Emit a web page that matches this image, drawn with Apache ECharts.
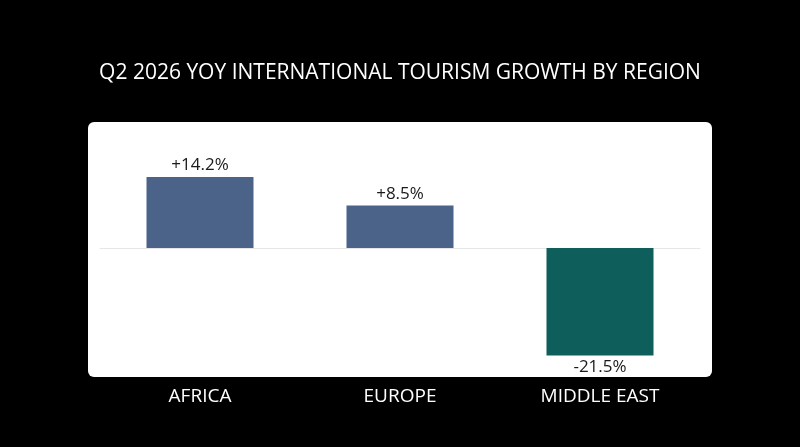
<!DOCTYPE html>
<html>
<head>
<meta charset="utf-8">
<script src="https://cdn.jsdelivr.net/npm/echarts@6/dist/echarts.min.js"></script>
<style>
  html, body { margin: 0; padding: 0; background: #000; }
  #chart { width: 800px; height: 447px; }
</style>
</head>
<body>
<div id="chart"></div>
<script>
// data
const regions = ['AFRICA', 'EUROPE', 'MIDDLE EAST']
const growth = [14.2, 8.5, -21.5]
const barColors = ['#4b6388', '#4b6388', '#0e5f5c']

const chart = echarts.init(document.getElementById('chart'))

const fmt = v => (v > 0 ? '+' : '') + v.toFixed(1) + '%'

const option = {
  backgroundColor: '#000',
  textStyle: { fontFamily: 'Open Sans' },
  title: {
    text: 'Q2 2026 YOY INTERNATIONAL TOURISM GROWTH BY REGION',
    left: 'center',
    top: 58,
    textStyle: { color: '#fff', fontSize: 21, fontWeight: 'normal', fontFamily: 'Open Sans' }
  },
  // white panel behind the plot
  graphic: [
    {
      type: 'rect',
      z: -10,
      shape: { x: 88, y: 122, width: 624, height: 255, r: 6 },
      style: { fill: '#fff' }
    }
  ],
  grid: { left: 100, right: 100, top: 148, bottom: 74 },
  xAxis: [
    {
      type: 'category',
      data: regions,
      axisLine: { onZero: true, lineStyle: { color: '#e6e6e6', width: 1 } },
      axisTick: { show: false },
      axisLabel: { show: false }
    },
    {
      type: 'category',
      data: regions,
      position: 'bottom',
      axisLine: { show: false },
      axisTick: { show: false },
      axisLabel: { color: '#fff', fontSize: 19, margin: 14, fontFamily: 'Open Sans' }
    }
  ],
  yAxis: {
    type: 'value',
    min: -25,
    max: 20,
    show: false,
    splitLine: { show: false }
  },
  series: [
    {
      type: 'bar',
      xAxisIndex: 0,
      barWidth: 107,
      data: growth.map((v, i) => ({
        value: v,
        itemStyle: { color: barColors[i] },
        label: { position: v < 0 ? 'bottom' : 'top' }
      })),
      label: {
        show: true,
        distance: 3,
        color: '#1a1a1a',
        fontSize: 17,
        fontFamily: 'Open Sans',
        formatter: p => fmt(p.value)
      }
    }
  ]
}

chart.setOption(option)
window.addEventListener('resize', () => chart.resize())
</script>
</body>
</html>
